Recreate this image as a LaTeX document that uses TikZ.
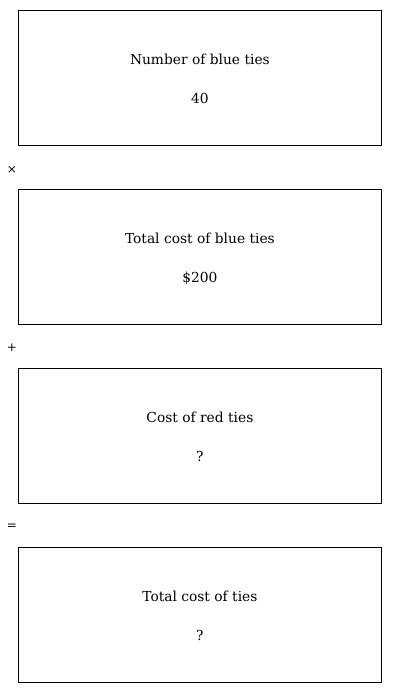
\documentclass[tikz,border=0pt]{standalone}
\usepackage{fontspec}
\setmainfont{DejaVu Serif}
\begin{document}
\begin{tikzpicture}[x=1pt,y=-1pt,
  panel/.style={draw,line width=0.8pt,minimum width=363pt,minimum height=135pt,anchor=north west,inner sep=0pt},
  lbl/.style={font=\fontsize{13.8}{16}\selectfont,anchor=base},
  op/.style={font=\fontsize{12}{14}\selectfont,anchor=center}]
\useasboundingbox (0,0) rectangle (400,693);
\node[panel] (b1) at (18,10) {};
\node[panel] (b2) at (18,189) {};
\node[panel] (b3) at (18,368) {};
\node[panel] (b4) at (18,547) {};
\foreach \b/\t/\v in {b1/Number of blue ties/40, b2/Total cost of blue ties/\$200, b3/Cost of red ties/?, b4/Total cost of ties/?}{
  \node[lbl] (\b t) at ([yshift=-54.5]\b.north) {\t};
  \node[lbl] (\b v) at ([yshift=-93.5]\b.north) {\v};
}
\node[op] (o1) at (12,170) {×};
\node[op] (o2) at (12,348) {+};
\node[op] (o3) at (12,527) {=};
\end{tikzpicture}
\end{document}
